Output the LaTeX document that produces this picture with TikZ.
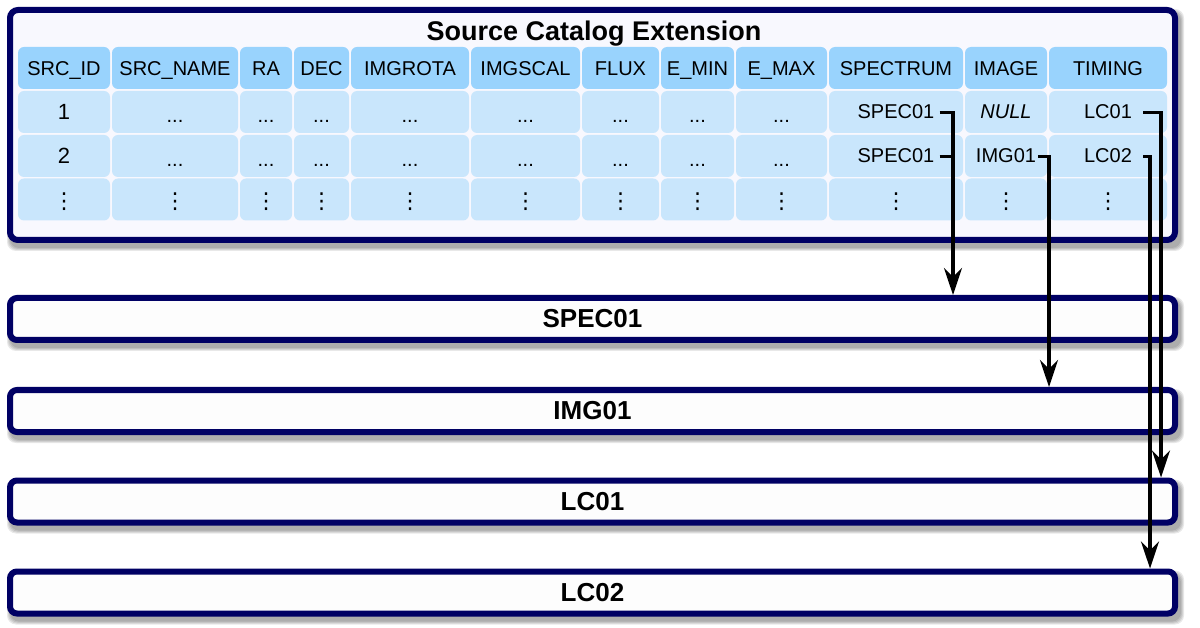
\documentclass[tikz,border=0pt]{standalone}
\usepackage{fontspec}
\setmainfont{Liberation Sans}
\newfontfamily\dejavu{DejaVu Sans}
\usetikzlibrary{arrows.meta,backgrounds}
\pgfdeclarelayer{bgzero}
\pgfsetlayers{bgzero,background,main}
\definecolor{navy}{RGB}{0,0,100}
\definecolor{hdr}{RGB}{153,211,253}
\definecolor{dat}{RGB}{201,230,252}
\definecolor{catbg}{RGB}{248,248,254}
\definecolor{boxbg}{RGB}{253,253,253}
\begin{document}
\begin{tikzpicture}[x=1pt,y=-1pt,
  frame/.style={draw=navy,line width=6pt,rounded corners=7pt,inner sep=0pt},
  hcell/.style={fill=hdr,rounded corners=6pt,minimum height=42pt,inner sep=0pt,
    font=\fontsize{20}{24}\selectfont,text height=14.3pt,text depth=0pt},
  dcell/.style={fill=dat,rounded corners=6pt,minimum height=42pt,inner sep=0pt},
  txt/.style={inner sep=0pt,anchor=base,font=\fontsize{20}{24}\selectfont},
  vd/.style={inner sep=0pt,font=\dejavu\fontsize{22}{26}\selectfont},
  lbl/.style={font=\bfseries\fontsize{26}{30}\selectfont},
  conn/.style={draw=black,line width=3.1pt,-{Stealth[length=27pt,width=18pt,inset=9pt]}},
  stub/.style={draw=black,line width=3.1pt}
]
\useasboundingbox (0,0) rectangle (1200,628);
\begin{pgfonlayer}{bgzero}
\fill[white] (0,0) rectangle (1200,628);
\end{pgfonlayer}

% main catalog frame
\node[frame,fill=catbg,minimum width=1165,minimum height=230,rounded corners=8pt] (cat) at (592.5,125) {};
\node[anchor=base,inner sep=0pt,font=\bfseries\fontsize{27}{32}\selectfont] (title) at (594,41) {Source Catalog Extension};

% table cells
\foreach \i/\l/\r/\hd in {1/18/110/SRC\_ID,2/112/238/SRC\_NAME,3/240/292/RA,4/294/349/DEC,5/351/469/IMGROTA,6/471/580/IMGSCAL,7/582/659/FLUX,8/661/734/E\_MIN,9/736/827/E\_MAX,10/829/963/SPECTRUM,11/965/1047/IMAGE,12/1049/1167/TIMING}{
  \node[hcell,minimum width={\r-\l}] (h\i) at ({(\l+\r)/2},68) {\hd};
  \node[dcell,minimum width={\r-\l}] (a\i) at ({(\l+\r)/2},112) {};
  \node[dcell,minimum width={\r-\l}] (b\i) at ({(\l+\r)/2},156) {};
  \node[dcell,minimum width={\r-\l}] (c\i) at ({(\l+\r)/2},199.5) {};
  \node[vd,yshift=-2] (tc\i) at (c\i.center) {⋮};
}
\foreach \i in {2,...,9}{
  \node[txt,yshift=-11] (ta\i) at (a\i.center) {...};
  \node[txt,yshift=-11] (tb\i) at (b\i.center) {...};
}
\node[txt,font=\fontsize{22}{26}\selectfont,yshift=-8] (ta1) at (a1.center) {1};
\node[txt,font=\fontsize{22}{26}\selectfont,yshift=-8] (tb1) at (b1.center) {2};
\node[txt,yshift=-7] (ta10) at (a10.center) {SPEC01};
\node[txt,yshift=-7] (ta11) at (a11.center) {\textit{NULL}};
\node[txt,yshift=-7] (ta12) at (a12.center) {LC01};
\node[txt,yshift=-7] (tb10) at (b10.center) {SPEC01};
\node[txt,yshift=-7] (tb11) at (b11.center) {IMG01};
\node[txt,yshift=-7] (tb12) at (b12.center) {LC02};

% extension boxes
\node[frame,fill=boxbg,minimum width=1165,minimum height=42,lbl] (spec) at (592.5,319) {SPEC01};
\node[frame,fill=boxbg,minimum width=1165,minimum height=42,lbl] (img) at (592.5,411) {IMG01};
\node[frame,fill=boxbg,minimum width=1165,minimum height=42,lbl] (lc1) at (592.5,501.5) {LC01};
\node[frame,fill=boxbg,minimum width=1165,minimum height=42,lbl] (lc2) at (592.5,592.5) {LC02};

% shadows
\begin{scope}[on background layer]
\foreach \n in {cat,spec,img,lc1,lc2}{
  \foreach \e in {0,1,2,3}{
    \fill[black,opacity=0.09,rounded corners=9pt]
      ([xshift={3-\e},yshift={-5-\e}]\n.south west) rectangle ([xshift={3+\e},yshift={-5+\e}]\n.north east);
  }
}
\end{scope}

% connectors
\coordinate (xs) at (953,0);
\coordinate (xi) at (1049,0);
\coordinate (xla) at (1161,0);
\coordinate (xlb) at (1150,0);
\draw[conn] ([xshift=5]ta10.east) -| (xs |- spec.north);
\draw[stub] ([xshift=5]tb10.east) -- (tb10.east -| xs);
\draw[conn] ([xshift=2]tb11.east) -| (xi |- img.north);
\draw[conn] ([xshift=11]ta12.east) -| (xla |- lc1.north);
\draw[conn] ([xshift=11]tb12.east) -| (xlb |- lc2.north);
\end{tikzpicture}
\end{document}
